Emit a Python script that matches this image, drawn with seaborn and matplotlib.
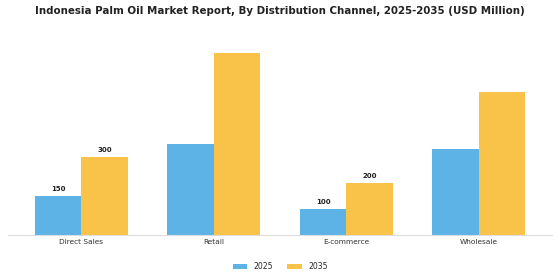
"""Indonesia palm oil market by distribution channel, grouped bars with seaborn."""
import matplotlib
matplotlib.use('Agg')
import matplotlib.pyplot as plt
import pandas as pd
import seaborn as sns

channels = ['Direct Sales', 'Retail', 'E-commerce', 'Wholesale']
values_2025 = [150, 350, 100, 330]
values_2035 = [300, 700, 200, 550]
years = ['2025', '2035']
labelled = ['Direct Sales', 'E-commerce']  # only these groups carry value labels

df = pd.DataFrame({
    'Channel': channels * 2,
    'Year': [years[0]] * len(channels) + [years[1]] * len(channels),
    'Value': values_2025 + values_2035,
})

sns.set_style('white')
plt.rcParams['font.family'] = ['DejaVu Sans']

fig = plt.figure(figsize=(5.6, 2.8), dpi=100)
ax = fig.add_axes([0.015, 0.161, 0.97, 0.715])

sns.barplot(data=df, x='Channel', y='Value', hue='Year', order=channels,
            hue_order=years, palette=['#5DB3E6', '#F9C349'], width=0.7,
            saturation=1, linewidth=0, ax=ax)

ax.set_ylim(0, 770)
ax.set_xlim(-0.55, 3.55)
ax.set(xlabel='', ylabel='')
ax.set_yticks([])
ax.tick_params(axis='x', labelsize=5.3, colors='#333333', length=0, pad=3)
for side in ['top', 'right', 'left']:
    ax.spines[side].set_visible(False)
ax.spines['bottom'].set_color('#dddddd')
ax.spines['bottom'].set_linewidth(0.8)

# value labels above the bars of the smaller channels
for container, year in zip(ax.containers, years):
    for bar, channel in zip(container, channels):
        if channel in labelled:
            ax.text(bar.get_x() + bar.get_width() / 2, bar.get_height() + 14,
                    f'{int(bar.get_height())}', ha='center', va='bottom',
                    fontsize=5, fontweight='bold', color='#222222')

ax.legend(loc='upper center', bbox_to_anchor=(0.5, -0.1), ncol=2,
          frameon=False, fontsize=5.6, handlelength=1.9, handleheight=0.55,
          handletextpad=0.8, columnspacing=1.8)

fig.suptitle('Indonesia Palm Oil Market Report, By Distribution Channel, 2025-2035 (USD Million)',
             fontsize=7.4, fontweight='bold', color='#222222', y=0.98)

fig.savefig('out.png', dpi=100)
